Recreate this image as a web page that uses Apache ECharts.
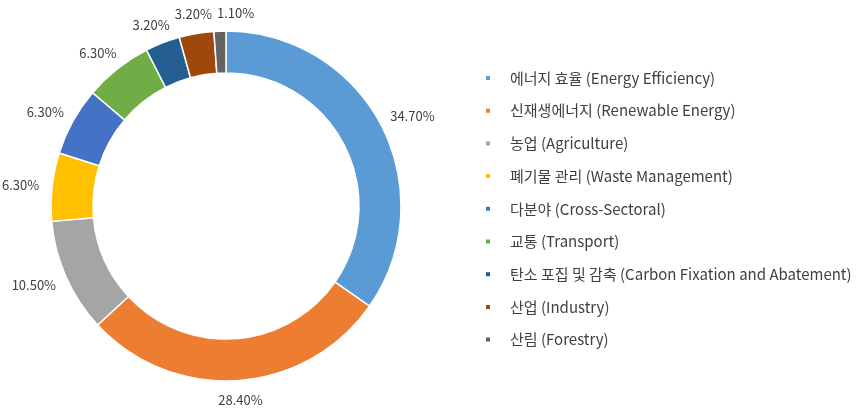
<!DOCTYPE html>
<html>
<head>
<meta charset="utf-8">
<script src="https://cdn.jsdelivr.net/npm/echarts@6/dist/echarts.min.js"></script>
<style>
  html, body { margin: 0; padding: 0; background: #fff; }
  #chart { width: 858px; height: 411px; }
</style>
</head>
<body>
<div id="chart"></div>
<script>
const categories = [
  '에너지 효율 (Energy Efficiency)',
  '신재생에너지 (Renewable Energy)',
  '농업 (Agriculture)',
  '폐기물 관리 (Waste Management)',
  '다분야 (Cross-Sectoral)',
  '교통 (Transport)',
  '탄소 포집 및 감축 (Carbon Fixation and Abatement)',
  '산업 (Industry)',
  '산림 (Forestry)'
]
const shares = [34.7, 28.4, 10.5, 6.3, 6.3, 6.3, 3.2, 3.2, 1.1]
const colors = ['#5B9BD5', '#ED7D31', '#A5A5A5', '#FFC000', '#4472C4', '#70AD47', '#255E91', '#9E480E', '#636363']

const CX = 226, CY = 206, R_IN = 133, R_OUT = 175, GAP = 13
const total = shares.reduce((a, b) => a + b, 0)
const placed = []

// Excel-style outside labels: box pushed out along the slice's mid direction,
// nudged sideways when it would run into the previous label
const placeLabel = (params) => {
  const i = params.dataIndex
  let before = 0
  for (let k = 0; k < i; k++) before += shares[k]
  const mid = (before + shares[i] / 2) / total * Math.PI * 2
  const ux = Math.sin(mid), uy = -Math.cos(mid)
  const w = params.labelRect.width, h = params.labelRect.height
  let x = CX + ux * (R_OUT + GAP) + ux * w / 2
  let y = CY + uy * (R_OUT + GAP) + uy * h / 2
  if (y < h / 2 + 7) y = h / 2 + 7
  const prev = placed[i - 1]
  if (prev && Math.abs(prev.y - y) < h && x - w / 2 < prev.x + prev.w / 2 + 4) {
    x = prev.x + prev.w / 2 + 5 + w / 2
  }
  placed[i] = { x, y, w }
  return { x, y, align: 'center', verticalAlign: 'middle', hideOverlap: false }
}

const chart = echarts.init(document.getElementById('chart'))

chart.setOption({
  backgroundColor: '#fff',
  color: colors,
  textStyle: { fontFamily: '"Noto Sans CJK KR", "Noto Sans", sans-serif' },
  legend: {
    orient: 'vertical',
    left: 484,
    top: 69,
    padding: 0,
    icon: 'rect',
    itemWidth: 6,
    itemHeight: 6,
    itemGap: 14.7,
    data: categories,
    textStyle: {
      color: '#404040',
      fontSize: 15,
      lineHeight: 18,
      padding: [0, 0, 0, 14]
    }
  },
  series: [
    {
      type: 'pie',
      center: [CX, CY],
      radius: [R_IN, R_OUT],
      startAngle: 90,
      clockwise: true,
      avoidLabelOverlap: false,
      itemStyle: { borderColor: '#fff', borderWidth: 1.5 },
      label: {
        show: true,
        position: 'outside',
        color: '#404040',
        fontSize: 13,
        formatter: p => p.value.toFixed(2) + '%'
      },
      labelLine: { show: false, length: 8, length2: 0 },
      labelLayout: placeLabel,
      emphasis: { disabled: true },
      data: categories.map((name, i) => ({ name, value: shares[i] }))
    }
  ]
})
</script>
</body>
</html>
